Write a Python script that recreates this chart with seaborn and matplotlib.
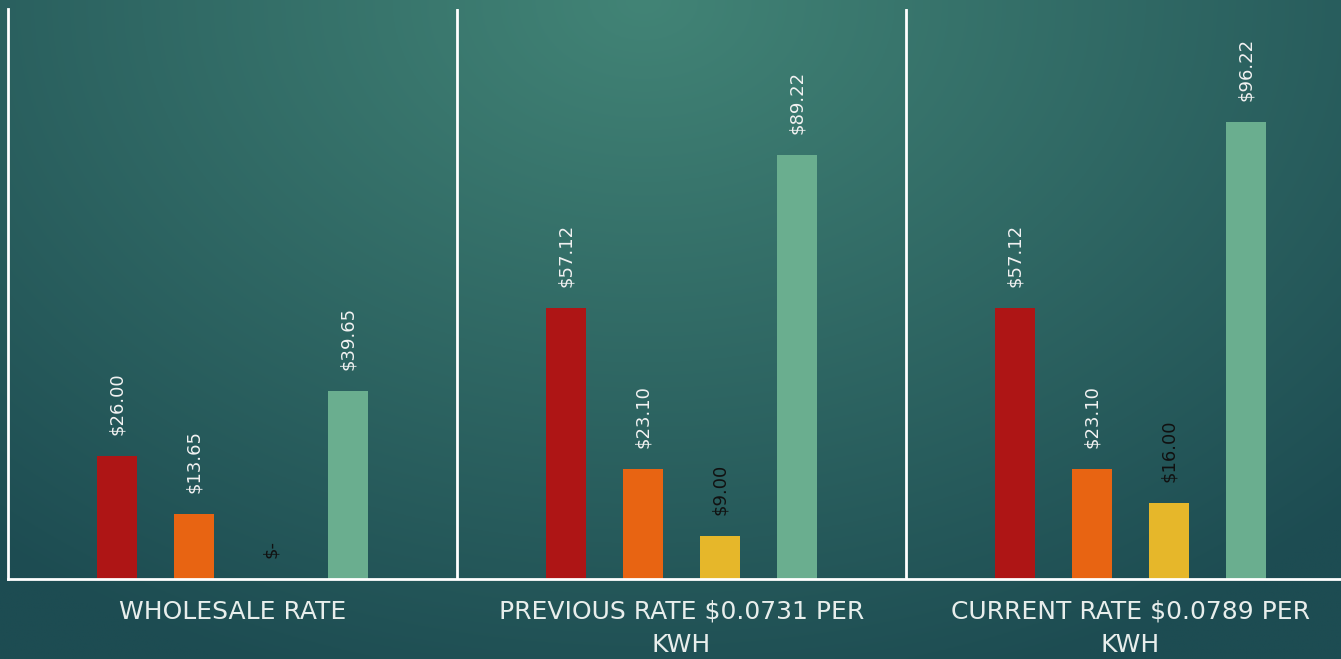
import numpy as np
import pandas as pd
import seaborn as sns
import matplotlib.pyplot as plt

# chart values
groups = ["WHOLESALE RATE", "PREVIOUS RATE $0.0731 PER\nKWH", "CURRENT RATE $0.0789 PER\nKWH"]
series = ["Series 1", "Series 2", "Series 3", "Series 4"]
red_vals = [26.00, 57.12, 57.12]
orange_vals = [13.65, 23.10, 23.10]
yellow_vals = [0.00, 9.00, 16.00]
green_vals = [39.65, 89.22, 96.22]

colors = ["#AE1515", "#E86412", "#E6B72A", "#6AAE8F"]

rows = []
for s, vals in zip(series, [red_vals, orange_vals, yellow_vals, green_vals]):
    for g, v in zip(groups, vals):
        rows.append({"group": g, "series": s, "value": v})
df = pd.DataFrame(rows)

sns.set_theme(style="white")
plt.rcParams['font.family'] = ['DejaVu Sans']

fig = plt.figure(figsize=(13.41, 6.59), dpi=100)

# teal radial background
bg = fig.add_axes([0, 0, 1, 1], zorder=-10)
yy, xx = np.mgrid[0:1:300j, 0:1:600j]
r = np.sqrt(((xx - 0.48) / 0.75) ** 2 + ((yy - 0.0) / 1.1) ** 2)
r = np.clip(r, 0, 1)
light = np.array([66, 132, 118]) / 255
dark = np.array([29, 76, 82]) / 255
img = light[None, None, :] * (1 - r[..., None]) + dark[None, None, :] * r[..., None]
bg.imshow(img, aspect="auto", extent=[0, 1, 0, 1], origin="upper")
bg.axis("off")

ax = fig.add_axes([8 / 1341, 80 / 659, 1 - 8 / 1341, 570 / 659])
ax.set_facecolor("none")
sns.barplot(data=df, x="group", y="value", hue="series", palette=colors,
            width=0.686, gap=0.48, saturation=1, linewidth=0, ax=ax, legend=False)

for i, cont in enumerate(ax.containers):
    labels = [f"${v:.2f}" if v else "$-" for v in cont.datavalues]
    ax.bar_label(cont, labels=labels, rotation=90, padding=15, fontsize=13,
                 color="#111111" if i == 2 else "#F2F2F2")

ax.set_xlim(-0.5, -0.5 + 1333 / 449)
ax.set_ylim(0, 120)
ax.set_xlabel("")
ax.set_ylabel("")
ax.set_yticks([])
for x in [0.5, 1.5]:
    ax.axvline(x, color="white", lw=2)
for side in ["top", "right"]:
    ax.spines[side].set_visible(False)
ax.spines["left"].set_color("white")
ax.spines["left"].set_linewidth(2)
ax.spines["bottom"].set_color("white")
ax.spines["bottom"].set_linewidth(2)
ax.tick_params(axis="x", length=0, pad=15, labelsize=18, labelcolor="#E8EEEC")
for t in ax.get_xticklabels():
    t.set_linespacing(1.5)

fig.savefig("out.png", dpi=100)
